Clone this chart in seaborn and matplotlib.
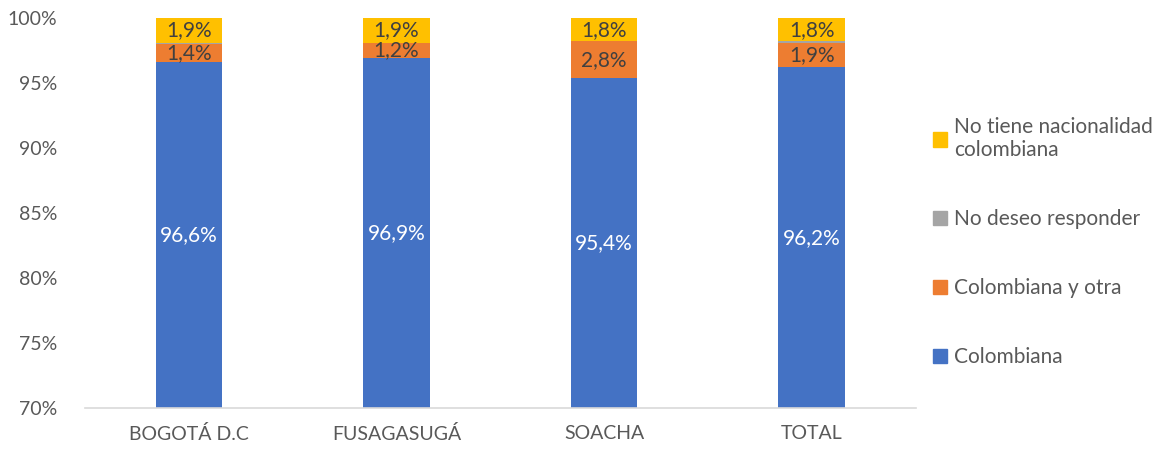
import matplotlib
matplotlib.use("Agg")
import matplotlib.pyplot as plt
from matplotlib.patches import Patch
from matplotlib.ticker import FuncFormatter
import seaborn as sns
import numpy as np
import pandas as pd

# Data (percent)
categories = ["BOGOTÁ D.C", "FUSAGASUGÁ", "SOACHA", "TOTAL"]
colombiana = [96.6, 96.9, 95.4, 96.2]
colombiana_otra = [1.4, 1.2, 2.8, 1.9]
no_responde = [0.1, 0.0, 0.0, 0.1]
sin_nacionalidad = [1.9, 1.9, 1.8, 1.8]

series_names = ["Colombiana", "Colombiana y otra", "No deseo responder",
                "No tiene nacionalidad\ncolombiana"]
colors = ["#4472C4", "#ED7D31", "#A5A5A5", "#FFC000"]

sns.set_style("white")
plt.rcParams["font.family"] = ["Lato", "DejaVu Sans"]

layers = np.array([colombiana, colombiana_otra, no_responde, sin_nacionalidad])
tops = np.cumsum(layers, axis=0)
bottoms = tops - layers

fig = plt.figure(figsize=(11.73, 4.51), dpi=100)
ax = fig.add_axes([0.0725, 0.095, 0.708, 0.865])

# draw cumulative bars from the tallest down so they stack visually
for i in range(3, -1, -1):
    df = pd.DataFrame({"cat": categories, "val": tops[i]})
    sns.barplot(data=df, x="cat", y="val", color=colors[i], width=0.32,
                saturation=1, ax=ax, linewidth=0)

ymin, ymax = 70, 100
ax.set_ylim(ymin, ymax)
ax.set_yticks(np.arange(70, 101, 5))
ax.yaxis.set_major_formatter(FuncFormatter(lambda v, p: f"{v:.0f}%"))
ax.set_xlabel("")
ax.set_ylabel("")
ax.tick_params(axis="both", length=0, labelsize=14, colors="#595959")
ax.tick_params(axis="y", pad=20)
ax.tick_params(axis="x", pad=12)
for s in ["left", "right", "top"]:
    ax.spines[s].set_visible(False)
ax.spines["bottom"].set_color("#D9D9D9")
ax.spines["bottom"].set_linewidth(1.2)

def fmt(v):
    return f"{v:.1f}".replace(".", ",") + "%"

# data labels (centre of visible part of each segment)
for j in range(len(categories)):
    lo = max(bottoms[0][j], ymin)
    ax.text(j, (lo + tops[0][j]) / 2, fmt(layers[0][j]), ha="center",
            va="center", color="white", fontsize=15)
    for i in (1, 3):
        ax.text(j, (bottoms[i][j] + tops[i][j]) / 2, fmt(layers[i][j]),
                ha="center", va="center", color="#404040", fontsize=15)

handles = [Patch(color=colors[i], label=series_names[i]) for i in range(3, -1, -1)]
fig.legend(handles=handles, loc="center left", bbox_to_anchor=(0.779, 0.463),
           frameon=False, fontsize=15, labelcolor="#595959",
           handlelength=0.7, handleheight=0.7, handletextpad=0.35,
           labelspacing=2.35)

fig.savefig("out.png", dpi=100)
